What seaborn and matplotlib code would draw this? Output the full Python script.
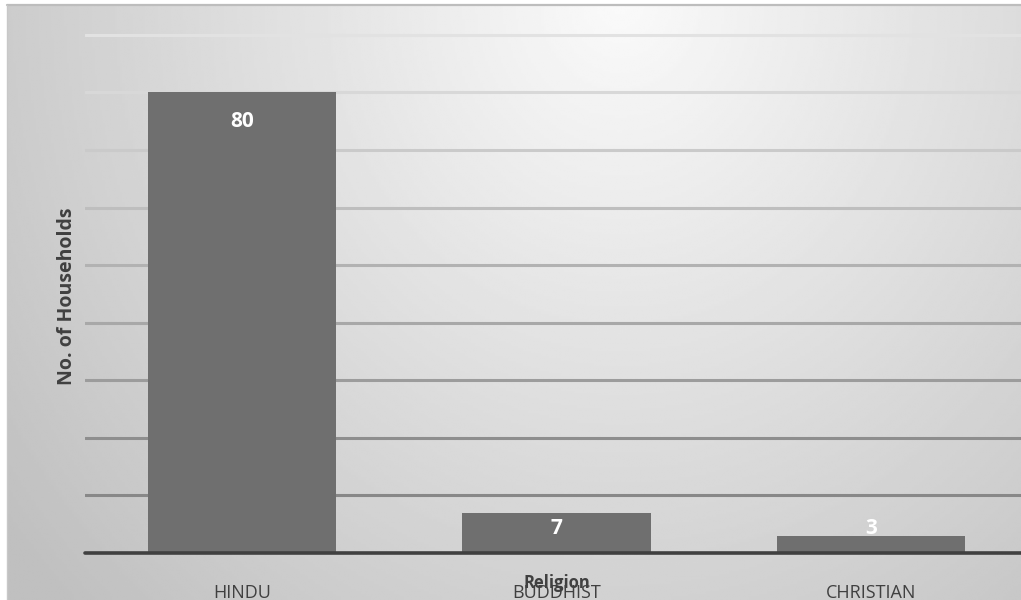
import numpy as np
import pandas as pd
import matplotlib
matplotlib.use("Agg")
import matplotlib.pyplot as plt
import seaborn as sns

# Household counts by religion
religions = ["HINDU", "BUDDHIST", "CHRISTIAN"]
households = [80, 7, 3]
grid_levels = [10, 20, 30, 40, 50, 60, 70, 80, 90]

df = pd.DataFrame({"Religion": religions, "Households": households})

sns.set_theme(style="white")
plt.rcParams["font.family"] = ["Open Sans", "DejaVu Sans"]

W, H = 1021, 600
fig = plt.figure(figsize=(W / 100, H / 100), dpi=100, facecolor="white")

# Soft radial gradient panel behind the chart
bg = fig.add_axes([7 / W, 0, 1 - 7 / W, 1 - 5 / H], zorder=0)
xx, yy = np.meshgrid(np.linspace(7, W, 400), np.linspace(5, H, 240))
r = np.sqrt(((xx - 620) / 560) ** 2 + (yy / 620) ** 2)
shade = np.clip(250 - 42 * r, 192, 250) / 255.0
bg.imshow(shade, cmap="gray", vmin=0, vmax=1, aspect="auto",
          extent=[0, 1, 0, 1], interpolation="bilinear")
bg.set_axis_off()
fig.add_artist(plt.Line2D([7 / W, 1], [1 - 5 / H, 1 - 5 / H],
                          transform=fig.transFigure, color="#bdbdbd", lw=1.6))
fig.add_artist(plt.Line2D([7 / W, 7 / W], [0, 1 - 5 / H],
                          transform=fig.transFigure, color="#c8c8c8", lw=1.0))

ax = fig.add_axes([85 / W, 47 / H, 943 / W, 547 / H], zorder=1)
ax.patch.set_alpha(0)

sns.barplot(data=df, x="Religion", y="Households", color="#6f6f6f",
            saturation=1, width=0.6, linewidth=0, ax=ax, zorder=3)

ax.set_xlim(-0.5, 2.5)
ax.set_ylim(0, 95)

# Gridlines darken toward the baseline
grid_colors = ["#888888", "#8e8e8e", "#9c9c9c", "#a8a8a8", "#b2b2b2",
               "#bebebe", "#cacaca", "#d8d8d8", "#e2e2e2"]
for lvl, col in zip(grid_levels, grid_colors):
    ax.axhline(lvl, color=col, lw=2.2, zorder=1)

ax.axhline(0, color="#404040", lw=2.6, zorder=4, clip_on=False)

for s in ax.spines.values():
    s.set_visible(False)
ax.set_yticks([])
ax.tick_params(axis="x", length=0, pad=22, labelsize=13, labelcolor="#404040")

for i, v in enumerate(households):
    ax.text(i, max(v - 5, 4.3), str(v), ha="center", va="center",
            color="white", fontsize=15, fontweight="bold", zorder=5)

ax.set_xlabel("Religion", fontsize=12, fontweight="bold", color="#404040")
ax.xaxis.set_label_coords(0.5, -0.055)
ax.xaxis.label.set_va("center")
ax.set_ylabel("No. of Households", fontsize=14, fontweight="bold", color="#404040")
ax.yaxis.set_label_coords(-0.019, 0.47)
ax.yaxis.label.set_va("center")

fig.savefig("out.png", dpi=100, facecolor="white")
